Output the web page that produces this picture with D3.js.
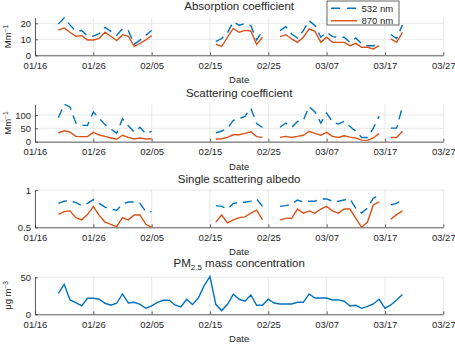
<!DOCTYPE html>
<html>
<head>
<meta charset="utf-8">
<script src="https://cdn.jsdelivr.net/npm/d3@7"></script>
<style>
  body { margin: 0; background: #fff; }
  text { font-family: "Liberation Sans", Arial, sans-serif; fill: #262626; }
</style>
</head>
<body>
<div id="chart"></div>
<script>
// daily samples, 01/20 .. 03/20
const startDate = "2021-01-20";
const nDays = 60;
const xTickLabels = ["01/16", "01/26", "02/05", "02/15", "02/25", "03/07", "03/17", "03/27"];

const absorb532 = [19.5, 23.5, 19, 15, 15.5, 12, 12, 13.5, 17.5, 15, 12.5, 16.5, 15.5, 6.8, 9.5, 12.5, 15.5,
  null, null, null, null, null, null, null, null, null, null,
  8.5, 10.5, 14, 21, 18.8, 19.8, 18.6, 9.5, 15.2,
  null, null,
  15.4, 17.9, 13.3, 10.8, 15.4, 21.7, 18.5, 11.3, 14.4, 11.7, 11.3, 11.3, 8.1, 10.8, 7.1, 6, 6, 6.7,
  null,
  13, 10.5, 19];
const absorb870 = [15.8, 17.1, 14.4, 11.9, 12.3, 9.6, 9.6, 10.6, 14.4, 11.9, 9.2, 12.9, 11.9, 5.6, 7.5, 9.6, 12.3,
  null, null, null, null, null, null, null, null, null, null,
  7, 5.5, 11.3, 16.8, 14.4, 15.6, 15.2, 6.8, 11.3,
  null, null,
  11.7, 12.9, 10.2, 8.1, 11.3, 16.5, 15, 8.1, 11.3, 8.1, 8.1, 8.1, 6, 7.5, 5, 5, 4, 6,
  null,
  10.2, 8.1, 14.4];

const scat532 = [90, 140, 130, 70, 61, 61, 111, 88, 64, 47, 32, 86, 60, 36, 54, 29, 39,
  null, null, null, null, null, null, null, null, null, null,
  33, 40, 50, 80, 87, 95, 125, 68, 53,
  null, null,
  54, 70, 54, 76, 79, 132, 111, 70, 107, 74, 66, 76, 57, 39, 16, 16, 51, 95,
  null,
  51, 51, 132];
const scat870 = [32.5, 41, 36, 20, 19, 19, 35, 25, 20, 14, 9, 24, 16, 10, 14, 10, 11,
  null, null, null, null, null, null, null, null, null, null,
  9, 11, 16, 26, 26, 31, 37, 19, 16,
  null, null,
  16, 20, 16, 20, 24, 39, 31, 24, 35, 20, 16, 22, 17, 14, 6, 5, 14, 31,
  null,
  16, 16, 39];

const ssa532 = [0.82, 0.85, 0.86, 0.83, 0.79, 0.82, 0.87, 0.82, 0.77, 0.74, 0.73, 0.81, 0.84, 0.84, 0.82, 0.71, 0.71,
  null, null, null, null, null, null, null, null, null, null,
  0.79, 0.78, 0.745, 0.82, 0.835, 0.835, 0.85, 0.88, 0.78,
  null, null,
  0.78, 0.79, 0.81, 0.866, 0.84, 0.85, 0.85, 0.88, 0.88, 0.85, 0.85, 0.866, 0.88, 0.755, 0.69, 0.76, 0.89, 0.93,
  null,
  0.8, 0.82, 0.87];
const ssa870 = [0.674, 0.71, 0.72, 0.63, 0.6, 0.67, 0.78, 0.66, 0.57, 0.54, 0.51, 0.63, 0.6, 0.665, 0.665, 0.54, 0.5,
  null, null, null, null, null, null, null, null, null, null,
  0.57, 0.665, 0.56, 0.6, 0.63, 0.64, 0.69, 0.73, 0.6,
  null, null,
  0.6, 0.62, 0.62, 0.745, 0.69, 0.72, 0.69, 0.745, 0.78, 0.72, 0.69, 0.745, 0.745, 0.62, 0.5, 0.57, 0.8, 0.84,
  null,
  0.61, 0.67, 0.72];

const pm25 = [28.4, 40.5, 19.4, 15.8, 11.3, 21.6, 21.6, 20.3, 14.9, 12.2,
  14.9, 27.5, 15.3, 16.2, 13.5, 8.1, 11.3, 16.2, 18.9, 18.9,
  12.6, 9.9, 20.3, 13.1, 22, 38.7, 50.9, 13.5, 5, 13.5,
  27, 20.3, 17.6, 26.1, 12.2, 12.2, 20.3, 15.3, 14, 14,
  14, 16.2, 16.2, 27.5, 22, 22, 22, 19.4, 19.4, 17.6,
  11.3, 12.2, 8.1, 10.8, 14, 20.3, 8.1, 12.6, 19.4, 26.6];

const seriesNames = ["532 nm", "870 nm"];
const blue = "#0072BD";
const orange = "#D95319";

const W = 455, H = 345;
const x0 = 35, x1 = 443.3;

const parseTick = d3.utcParse("%Y/%m/%d");
const tickDates = xTickLabels.map((t) => parseTick("2021/" + t));
const dates = d3.utcDay.range(d3.utcParse("%Y-%m-%d")(startDate),
  d3.utcDay.offset(d3.utcParse("%Y-%m-%d")(startDate), nDays));

const xScale = d3.scaleUtc()
  .domain([tickDates[0], tickDates[tickDates.length - 1]])
  .range([x0, x1]);

const svg = d3.select("#chart").append("svg")
  .attr("width", W).attr("height", H);

const panels = [
  { title: "Absorption coefficient", top: 17.7, bottom: 55.3, lo: 0, series: [absorb532, absorb870],
    yTicks: [0, 10, 20], ylab: ["Mm", "\u22121"] },
  { title: "Scattering coefficient", top: 104.3, bottom: 141.7, lo: 0, series: [scat532, scat870],
    yTicks: [0, 50, 100], ylab: ["Mm", "\u22121"] },
  { title: "Single scattering albedo", top: 190, bottom: 227.3, lo: 0.5, hi: 1, series: [ssa532, ssa870],
    yTicks: [0.5, 1], ylab: null },
  { title: null, top: 276.6, bottom: 314.3, lo: 0, series: [pm25],
    yTicks: [0, 50], ylab: ["\u03bcg m", "\u22123"] },
];

panels.forEach((p) => {
  const hi = p.hi != null ? p.hi : d3.max(p.series.flat());
  const yScale = d3.scaleLinear().domain([p.lo, hi]).range([p.bottom, p.top]);
  const g = svg.append("g");

  // grid
  g.selectAll(".vg").data(tickDates).enter().append("line")
    .attr("x1", (d) => xScale(d)).attr("x2", (d) => xScale(d))
    .attr("y1", p.top).attr("y2", p.bottom)
    .attr("stroke", "#e3e3e3").attr("stroke-width", 0.8);
  g.selectAll(".hg").data(p.yTicks).enter().append("line")
    .attr("x1", x0).attr("x2", x1)
    .attr("y1", (d) => yScale(d)).attr("y2", (d) => yScale(d))
    .attr("stroke", "#e3e3e3").attr("stroke-width", 0.8);

  // axes
  const xAxis = g.append("g")
    .attr("transform", `translate(0,${p.bottom})`)
    .call(d3.axisBottom(xScale).tickValues(tickDates)
      .tickFormat(d3.utcFormat("%m/%d")).tickSizeInner(-3).tickSizeOuter(0).tickPadding(6.5));
  const yAxis = g.append("g")
    .attr("transform", `translate(${x0},0)`)
    .call(d3.axisLeft(yScale).tickValues(p.yTicks)
      .tickFormat(d3.format("")).tickSizeInner(-3).tickSizeOuter(0).tickPadding(4));
  [xAxis, yAxis].forEach((a) => {
    a.select(".domain").attr("stroke", "#3a3a3a").attr("stroke-width", 0.8);
    a.selectAll(".tick line").attr("stroke", "#3a3a3a").attr("stroke-width", 0.8);
    a.selectAll("text").attr("fill", "#262626")
      .style("font-family", '"Liberation Sans", Arial, sans-serif').style("font-size", "9.5px");
  });

  // lines
  const line = d3.line()
    .defined((d) => d != null)
    .x((d, i) => xScale(dates[i]))
    .y((d) => yScale(d));
  p.series.forEach((s, si) => {
    g.append("path").datum(s)
      .attr("fill", "none")
      .attr("stroke", si === 0 ? blue : orange)
      .attr("stroke-width", 1.4)
      .attr("stroke-dasharray", si === 0 && p.series.length > 1 ? "9,6" : null)
      .attr("d", line);
  });

  // title
  const cx = (x0 + x1) / 2;
  if (p.title) {
    g.append("text").attr("x", cx).attr("y", p.top - 7.5)
      .attr("text-anchor", "middle").style("font-size", "11.5px").text(p.title);
  } else {
    const t = g.append("text").attr("x", cx).attr("y", p.top - 9.5)
      .attr("text-anchor", "middle").style("font-size", "11.5px");
    t.append("tspan").text("PM");
    t.append("tspan").attr("dy", 3).style("font-size", "8px").text("2.5");
    t.append("tspan").attr("dy", -3).text(" mass concentration");
  }

  // x label
  g.append("text").attr("x", cx).attr("y", p.bottom + 28)
    .attr("text-anchor", "middle").style("font-size", "9.5px").text("Date");

  // y label
  if (p.ylab) {
    const t = g.append("text")
      .attr("transform", `translate(10.5,${(p.top + p.bottom) / 2}) rotate(-90)`)
      .attr("text-anchor", "middle").style("font-size", "9.5px");
    t.append("tspan").text(p.ylab[0]);
    t.append("tspan").attr("dy", -3).style("font-size", "6.5px").text(p.ylab[1]);
  }
});

// legend
const leg = svg.append("g").attr("transform", "translate(327,1)");
leg.append("rect").attr("width", 72).attr("height", 24)
  .attr("fill", "#fff").attr("stroke", "#262626").attr("stroke-width", 0.7);
seriesNames.forEach((name, i) => {
  const y = 7.3 + i * 12.4;
  leg.append("line").attr("x1", 4).attr("x2", 30).attr("y1", y).attr("y2", y)
    .attr("stroke", i === 0 ? blue : orange).attr("stroke-width", 1.4)
    .attr("stroke-dasharray", i === 0 ? "9,7" : null);
  leg.append("text").attr("x", 34.5).attr("y", y + 3.4)
    .style("font-size", "9.5px").text(name);
});
</script>
</body>
</html>
